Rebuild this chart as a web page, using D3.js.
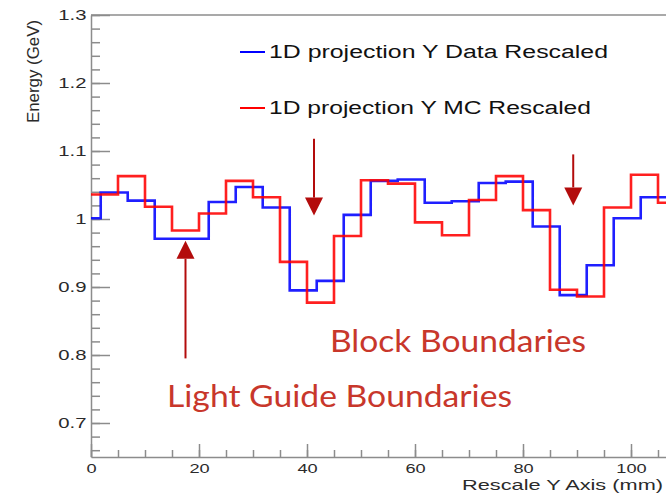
<!DOCTYPE html>
<html>
<head>
<meta charset="utf-8">
<script src="https://cdn.jsdelivr.net/npm/d3@7/dist/d3.min.js"></script>
<style>
  html, body { margin: 0; padding: 0; background: #fff; }
  svg { display: block; }
</style>
</head>
<body>
<svg id="chart" width="666" height="498"></svg>
<script>
// Energy profile along the rescaled Y axis: data vs. MC, 5 mm bins
const dataLowEdges = [0, 1.8, 6.8, 11.8, 16.8, 21.8, 26.8, 31.8, 36.8, 41.8, 46.8,
                      51.8, 56.8, 61.8, 66.8, 71.8, 76.8, 81.8, 86.8, 91.8, 96.8, 101.8];
const dataValues   = [1.001, 1.039, 1.027, 0.971, 0.971, 1.025, 1.047, 1.017, 0.895, 0.909, 1.006,
                      1.056, 1.058, 1.024, 1.026, 1.053, 1.055, 0.989, 0.888, 0.932, 1.001, 1.032];
const mcLowEdges   = [0, 5, 10, 15, 20, 25, 30, 35, 40, 45, 50,
                      55, 60, 65, 70, 75, 80, 85, 90, 95, 100, 105];
const mcValues     = [1.036, 1.063, 1.018, 0.983, 1.008, 1.056, 1.032, 0.937, 0.877, 0.975, 1.057,
                      1.052, 0.995, 0.976, 1.028, 1.063, 1.013, 0.896, 0.886, 1.017, 1.065, 1.024];
const histEnd = 110;

const yTickValues = [0.7, 0.8, 0.9, 1.0, 1.1, 1.2, 1.3];
const xTickValues = [0, 20, 40, 60, 80, 100];

const legendLabels = ["1D projection Y Data Rescaled", "1D projection Y MC Rescaled"];
const seriesColors = ["#0000ff", "#ff0000"];

// Annotation arrows: x position (mm), arrow tail / tip energies
const blockArrows = [{ x: 41.3, from: 1.118, to: 1.005 }, { x: 89.3, from: 1.095, to: 1.020 }];
const guideArrow  = { x: 17.5, from: 0.795, to: 0.968 };

const svg = d3.select("#chart");
const FONT = "'Liberation Sans', Arial, Helvetica, sans-serif";

const x = d3.scaleLinear().domain([0, histEnd]).range([91, 91 + histEnd * 5.4]);
const y = d3.scaleLinear().domain([0.65, 1.3]).range([457, 15]);

const axisColor = "#8c8c8c";
const SX = 1.4; // horizontal stretch of the axis lettering

// frame top edge
svg.append("line")
  .attr("x1", x(0)).attr("x2", 666)
  .attr("y1", y(1.3)).attr("y2", y(1.3))
  .attr("stroke", axisColor).attr("stroke-width", 1.5);

// minor ticks
svg.append("g").attr("transform", `translate(${x(0)},0)`)
  .call(d3.axisLeft(y).tickValues(y.ticks(30)).tickSizeInner(-9).tickSizeOuter(0).tickFormat(""))
  .call(g => g.select(".domain").remove())
  .call(g => g.selectAll("line").attr("stroke", axisColor).attr("stroke-width", 1.5));
svg.append("g").attr("transform", `translate(0,${y(0.65)})`)
  .call(d3.axisBottom(x).tickValues(x.ticks(22)).tickSizeInner(-7).tickSizeOuter(0).tickFormat(""))
  .call(g => g.select(".domain").remove())
  .call(g => g.selectAll("line").attr("stroke", axisColor).attr("stroke-width", 1.5));

// major ticks + labels
const yAxis = svg.append("g").attr("transform", `translate(${x(0)},0)`)
  .call(d3.axisLeft(y).tickValues(yTickValues).tickSizeInner(-19).tickSizeOuter(0)
        .tickPadding(4.5).tickFormat(d => String(+d.toFixed(1))));
yAxis.select(".domain").attr("stroke", axisColor).attr("stroke-width", 1.5);
yAxis.selectAll("line").attr("stroke", axisColor).attr("stroke-width", 1.5);
yAxis.selectAll("text")
  .attr("x", -4.5 / SX).attr("transform", `scale(${SX},1)`)
  .attr("fill", "#2a2a2a").style("font-family", FONT).style("font-size", "14.5px");

const xAxis = svg.append("g").attr("transform", `translate(0,${y(0.65)})`)
  .call(d3.axisBottom(x).tickValues(xTickValues).tickSizeInner(-13).tickSizeOuter(0)
        .tickPadding(7).tickFormat(d3.format("d")));
xAxis.select(".domain").attr("stroke", axisColor).attr("stroke-width", 1.5);
xAxis.selectAll("line").attr("stroke", axisColor).attr("stroke-width", 1.5);
xAxis.selectAll("text")
  .attr("transform", `scale(${SX},1)`)
  .attr("fill", "#2a2a2a").style("font-family", FONT).style("font-size", "13px");

// axis titles
svg.append("text")
  .attr("x", 462).attr("y", 489.5)
  .attr("textLength", 201).attr("lengthAdjust", "spacingAndGlyphs")
  .attr("fill", "#2a2a2a").style("font-family", FONT).style("font-size", "15px")
  .text("Rescale Y Axis (mm)");
svg.append("text")
  .attr("transform", "translate(39,71.5) rotate(-90)")
  .attr("text-anchor", "middle")
  .attr("textLength", 103).attr("lengthAdjust", "spacingAndGlyphs")
  .attr("fill", "#2a2a2a").style("font-family", FONT).style("font-size", "16px")
  .text("Energy (GeV)");

// step histograms
svg.append("clipPath").attr("id", "plotArea")
  .append("rect").attr("x", x(0)).attr("y", y(1.3)).attr("width", 666 - x(0)).attr("height", y(0.65) - y(1.3));

function stepPoints(edges, values) {
  const pts = edges.map((e, i) => [e, values[i]]);
  pts.push([histEnd, values[values.length - 1]]);
  return pts;
}
const stepLine = d3.line().x(d => x(d[0])).y(d => y(d[1])).curve(d3.curveStepAfter);

const series = [stepPoints(dataLowEdges, dataValues), stepPoints(mcLowEdges, mcValues)];
svg.append("g").attr("clip-path", "url(#plotArea)")
  .selectAll("path").data(series).join("path")
  .attr("d", stepLine)
  .attr("fill", "none")
  .attr("stroke", (d, i) => seriesColors[i])
  .attr("stroke-width", 2.6)
  .attr("stroke-opacity", 0.88);

// legend
const legend = svg.append("g");
const legendRows = [{ y: 52, base: 58, len: 339 }, { y: 108, base: 113.5, len: 322 }];
legendLabels.forEach((label, i) => {
  legend.append("line")
    .attr("x1", 240).attr("x2", 265)
    .attr("y1", legendRows[i].y).attr("y2", legendRows[i].y)
    .attr("stroke", seriesColors[i]).attr("stroke-width", 2);
  legend.append("text")
    .attr("x", 269).attr("y", legendRows[i].base)
    .attr("textLength", legendRows[i].len).attr("lengthAdjust", "spacingAndGlyphs")
    .attr("fill", "#111").style("font-family", FONT).style("font-size", "18px")
    .text(label);
});

// annotation arrows
const arrowColor = "#b30c0c";
function arrow(a) {
  const dir = Math.sign(y(a.to) - y(a.from)); // +1 pointing down the page
  const tipY = y(a.to), baseY = tipY - dir * 18, cx = x(a.x);
  svg.append("line")
    .attr("x1", cx).attr("x2", cx)
    .attr("y1", y(a.from)).attr("y2", baseY)
    .attr("stroke", arrowColor).attr("stroke-width", 2);
  svg.append("path")
    .attr("d", `M${cx - 9},${baseY}L${cx + 9},${baseY}L${cx},${tipY}Z`)
    .attr("fill", arrowColor);
}
blockArrows.forEach(arrow);
arrow(guideArrow);

// annotation labels
const noteFont = "Lato, 'Open Sans', sans-serif";
svg.append("text")
  .attr("x", 330).attr("y", 352)
  .attr("textLength", 256).attr("lengthAdjust", "spacingAndGlyphs")
  .attr("fill", "#c8372b").style("font-family", noteFont).style("font-size", "31px")
  .text("Block Boundaries");
svg.append("text")
  .attr("x", 167).attr("y", 407)
  .attr("textLength", 345).attr("lengthAdjust", "spacingAndGlyphs")
  .attr("fill", "#c8372b").style("font-family", noteFont).style("font-size", "31px")
  .text("Light Guide Boundaries");
</script>
</body>
</html>
